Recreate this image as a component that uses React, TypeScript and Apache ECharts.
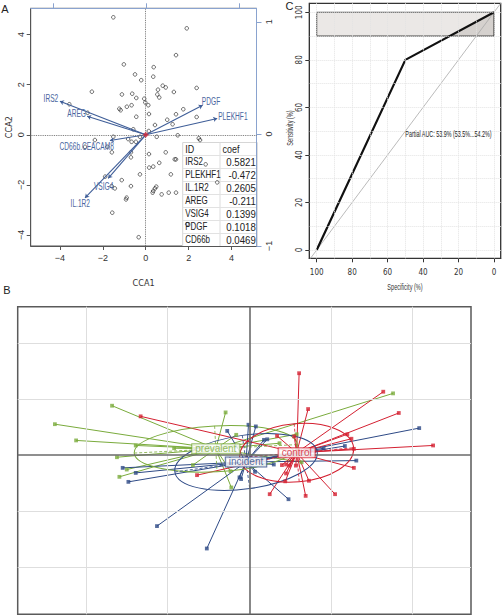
import React, { useEffect, useRef } from 'react';
import * as echarts from 'echarts';

const SANS = "'Liberation Sans', Arial, sans-serif";
const NARROW = "'Liberation Sans Narrow', 'DejaVu Sans Condensed', 'Liberation Sans', sans-serif";

// ---------------- Panel A: CCA biplot ----------------
const sitePoints: [number, number][] = [
  [-1.51, 4.69], [1.91, 4.25], [1.41, 3.18], [-1.02, 2.81], [0.37, 2.7], [-0.5, 2.41], [0.35, 2.32],
  [-0.21, 2.18], [0.79, 1.96], [0.93, 1.89], [0.57, 1.8], [2.37, 1.87], [1.31, 1.71], [-2.51, 1.72],
  [-1.11, 1.61], [-0.63, 1.64], [0.54, 1.61], [0.63, 1.49], [-0.44, 1.47], [-0.07, 1.44], [-0.02, 1.29],
  [0.12, 1.18], [-3.56, 1.22], [-0.66, 1.18], [-0.88, 1.12], [-1.23, 1.04], [-1.17, 0.98], [1.75, 1.02],
  [-2.71, 0.88], [1.41, 0.82], [0.15, 0.83], [-0.44, 0.72], [2.37, 0.71], [1.0, 0.6], [1.25, 0.42],
  [0.43, 0.39], [-0.58, 0.22], [0.14, 0.15], [1.49, -0.02], [0.51, -0.08], [-1.51, -0.08], [2.47, -0.14],
  [2.53, -0.21], [-2.37, -0.21], [-0.82, -0.17], [-0.66, -0.28], [-0.46, -0.28], [-0.27, -0.08],
  [-2.83, -0.48], [-1.79, -0.48], [-1.58, -0.7], [-0.69, -0.7], [0.15, -0.77], [0.93, -0.7], [-0.69, -0.9],
  [1.41, -0.98], [1.35, -0.98], [0.63, -1.12], [0.35, -1.27], [0.16, -1.31], [1.17, -1.58], [-0.27, -1.58],
  [-1.89, -1.67], [-1.12, -1.81], [0.49, -2.07], [0.43, -2.14], [0.35, -2.24], [0.32, -2.31], [-1.59, -2.05],
  [-1.44, -2.14], [-0.69, -2.05], [0.74, -2.38], [1.07, -2.31], [1.41, -2.31], [-0.89, -2.51], [-0.92, -2.58],
  [-1.56, -3.11], [-0.33, -4.09], [2.79, -1.18], [3.33, -1.9], [1.93, -3.57],
];
const varNames = ['IRS2', 'AREG', 'PDGF', 'PLEKHF1', 'CD66b.CEACAM8', 'VSIG4', 'IL.1R2'];
const varTips: [number, number][] = [
  [-4.0, 1.34], [-2.73, 0.74], [2.65, 1.18], [3.33, 0.65], [-1.67, -0.23], [-1.75, -1.74], [-2.83, -2.52],
];
const varLabelPos: [number, number][] = [
  [-4.42, 1.45], [-3.22, 0.86], [3.04, 1.33], [4.06, 0.75], [-2.75, -0.45], [-1.96, -2.05], [-3.05, -2.74],
];
const ccaTicks = [-4, -2, 0, 2, 4];
const biplotTicks = [-1, 0, 1];
const tableHeader = ['ID', 'coef'];
const tableIds = ['IRS2', 'PLEKHF1', 'IL.1R2', 'AREG', 'VSIG4', 'PDGF', 'CD66b'];
const tableCoefs = ['0.5821', '-0.472', '0.2605', '-0.211', '0.1399', '0.1018', '0.0469'];

// ---------------- Panel C: ROC ----------------
const rocSpecificity = [100, 50, 0];
const rocSensitivity = [0, 80, 100];
const chanceSpecificity = [105, -5];
const chanceSensitivity = [-5, 105];
const pAucBox = [100, 90, 0, 100];
const pAucFillSpec = [25, 0, 0];
const pAucFillSens = [90, 100, 90];
const rocTicks = [0, 20, 40, 60, 80, 100];
const rocGrid = [0, 10, 20, 30, 40, 50, 60, 70, 80, 90, 100];
const pAucText = 'Partial AUC: 53.9% (53.5%...54.2%)';
const pAucTextPos: [number, number] = [50, 48.8];

// ---------------- Panel B: class scatter ----------------
const groupNames = ['prevalent', 'incident', 'control'];
const groupColors = ['#7aab3c', '#2e4a86', '#d42031'];
const groupCenters: [number, number][] = [[-0.41, 0.11], [-0.04, -0.125], [0.58, 0.04]];
const groupEllipses: [number, number, number][] = [[1.0, 0.41, 3], [0.88, 0.48, 8], [0.7, 0.52, 5]];
const prevalentPoints: [number, number][] = [
  [-1.68, 0.88], [-2.38, 0.55], [-2.12, 0.26], [-1.62, -0.04], [-1.5, -0.26], [-1.59, -0.39], [-0.29, 0.76],
  [1.76, 1.1], [-0.22, -0.58], [-0.92, 0.12], [-0.69, -0.18], [-0.23, -0.29], [0.37, 0.21], [0.58, 0.37],
  [0.64, -0.13], [-1.39, 0.17], [-0.16, 0.36],
];
const incidentPoints: [number, number][] = [
  [-0.01, 0.54], [0.08, 0.51], [-0.27, 0.43], [-1.55, -0.23], [-1.48, -0.48], [-1.39, -0.32], [-1.13, -1.27],
  [-0.52, -1.67], [-0.12, -0.4], [-0.1, -0.43], [0.18, 0.27], [0.22, 0.28], [2.08, 0.48], [1.17, 0.16],
  [1.31, -0.1], [0.91, 0.12], [0.48, -0.79], [0.3, -0.17], [0.07, -0.3],
];
const controlPoints: [number, number][] = [
  [-1.33, 0.69], [0.61, 1.46], [0.72, 0.82], [1.64, 1.13], [1.83, 0.75], [2.25, 0.17], [1.2, 0.37],
  [1.25, 0.29], [1.28, 0.11], [1.28, -0.23], [0.73, -0.46], [0.44, -0.47], [0.25, -0.7], [0.69, -0.73],
  [1.05, -0.7], [0.34, 0.34], [0.55, 0.33], [0.4, -0.18], [0.45, -0.17], [0.49, -0.19], [0.45, -0.33],
  [0.57, -0.19], [-0.64, -0.36],
];
const groupPoints = [prevalentPoints, incidentPoints, controlPoints];
const bGridLines = [-2, -1, 1, 2];

const minusFmt = (v: number) => String(v).replace('-', '\u2212');

export default function App() {
  const ref = useRef<HTMLDivElement>(null);
  useEffect(() => {
    if (!ref.current) return;
    const chart = echarts.init(ref.current, null, { renderer: 'svg' });

    // table graphic (panel A inset)
    const tL = 182.7, tR = 257.3, tT = 142.5, rowH = 13, colX = 220;
    const nRows = tableIds.length + 1;
    const tableEls: any[] = [
      { type: 'rect', shape: { x: tL, y: tT, width: tR - tL, height: rowH * nRows }, style: { fill: '#fff', stroke: '#d6d6d6', lineWidth: 1 }, z: 0 },
      { type: 'line', shape: { x1: colX, y1: tT, x2: colX, y2: tT + rowH * nRows }, style: { stroke: '#dcdcdc', lineWidth: 1 }, z: 0 },
    ];
    for (let r = 1; r < nRows; r++) {
      tableEls.push({ type: 'line', shape: { x1: tL, y1: tT + rowH * r, x2: tR, y2: tT + rowH * r }, style: { stroke: '#e2e2e2', lineWidth: 1 }, z: 0 });
    }
    const cellText = (text: string, x: number, y: number, align: string, sx: number) => ({
      type: 'text', x, y, scaleX: sx, z: 0,
      style: { text, fill: '#222', font: `10.5px ${SANS}`, align, textAlign: align, verticalAlign: 'middle', textVerticalAlign: 'middle' },
    });
    tableEls.push(cellText(tableHeader[0], tL + 2.5, tT + rowH / 2, 'left', 0.85));
    tableEls.push(cellText(tableHeader[1], colX + 2.5, tT + rowH / 2, 'left', 0.85));
    tableIds.forEach((id, i) => {
      const y = tT + rowH * (i + 1) + rowH / 2;
      tableEls.push(cellText(id, tL + 2.5, y, 'left', 0.76));
      tableEls.push(cellText(tableCoefs[i], tR - 1.5, y, 'right', 0.92));
    });

    const letter = (t: string, x: number, y: number) => ({
      type: 'text', x, y, style: { text: t, fill: '#222', font: `11px ${SANS}`, align: 'center', textAlign: 'center', verticalAlign: 'middle', textVerticalAlign: 'middle' },
    });

    const axisTxt = { fontSize: 9, color: '#333', fontFamily: SANS };
    const rocTxt = { fontSize: 8, color: '#333', fontFamily: NARROW };
    const blue = '#8aa3cf';

    const option: any = {
      animation: false,
      backgroundColor: '#fff',
      grid: [
        { left: 30.7, top: 8.3, width: 225.8, height: 237.7, show: true, borderColor: '#555', borderWidth: 1, outerBoundsMode: 'none' },
        { left: 309.3, top: 3.3, width: 191.4, height: 255, show: true, borderColor: '#333', borderWidth: 1.3, outerBoundsMode: 'none' },
        { left: 17.7, top: 306.7, width: 453.3, height: 307.6, show: true, borderColor: '#5a5a5a', borderWidth: 1.5, outerBoundsMode: 'none' },
      ],
      xAxis: [
        {
          gridIndex: 0, type: 'value', min: -5.36, max: 5.16, position: 'bottom',
          axisLine: { show: true, onZero: false, lineStyle: { color: '#555' } },
          axisTick: { show: true, customValues: ccaTicks, length: 4, lineStyle: { color: '#555' } },
          axisLabel: { customValues: ccaTicks, formatter: minusFmt, margin: 7, ...axisTxt },
          splitLine: { show: false },
          name: 'CCA1', nameLocation: 'middle', nameGap: 32, nameTextStyle: { fontSize: 9, color: '#333', fontFamily: NARROW },
        },
        {
          gridIndex: 0, type: 'value', min: -1.24, max: 1.19, position: 'top',
          axisLine: { show: true, onZero: false, lineStyle: { color: blue } },
          axisTick: { show: true, customValues: biplotTicks, length: 5, lineStyle: { color: blue } },
          axisLabel: { show: false },
          splitLine: { show: false },
        },
        {
          gridIndex: 1, type: 'value', inverse: true, min: -3.78, max: 104.17,
          axisLine: { show: true, onZero: false, lineStyle: { color: '#333' } },
          axisTick: { show: true, customValues: rocTicks, length: 4, lineStyle: { color: '#333' } },
          axisLabel: { customValues: rocTicks, margin: 10, ...rocTxt },
          splitLine: { show: false },
        },
        {
          gridIndex: 2, type: 'value', min: -2.835, max: 2.714,
          axisLine: { show: false }, axisTick: { show: false }, axisLabel: { show: false }, splitLine: { show: false },
        },
      ],
      yAxis: [
        {
          gridIndex: 0, type: 'value', min: -4.44, max: 5.05, position: 'left',
          axisLine: { show: true, onZero: false, lineStyle: { color: '#555' } },
          axisTick: { show: true, customValues: ccaTicks, length: 4, lineStyle: { color: '#555' } },
          axisLabel: { customValues: ccaTicks, formatter: minusFmt, rotate: 90, margin: 5, ...axisTxt },
          splitLine: { show: false },
          name: 'CCA2', nameLocation: 'middle', nameGap: 17, nameRotate: 90, nameTextStyle: { fontSize: 9, color: '#333', fontFamily: NARROW },
        },
        {
          gridIndex: 0, type: 'value', min: -1.0, max: 1.12, position: 'right',
          axisLine: { show: true, onZero: false, lineStyle: { color: blue } },
          axisTick: { show: true, customValues: biplotTicks, length: 5, lineStyle: { color: blue } },
          axisLabel: { customValues: biplotTicks, formatter: minusFmt, rotate: 90, margin: 8, ...axisTxt },
          splitLine: { show: false },
        },
        {
          gridIndex: 1, type: 'value', min: -3.49, max: 103.79,
          axisLine: { show: true, onZero: false, lineStyle: { color: '#333' } },
          axisTick: { show: true, customValues: rocTicks, length: 4, lineStyle: { color: '#333' } },
          axisLabel: { customValues: rocTicks, rotate: 90, margin: 6, ...rocTxt },
          splitLine: { show: false },
        },
        {
          gridIndex: 2, type: 'value', min: -2.845, max: 2.648,
          axisLine: { show: false }, axisTick: { show: false }, axisLabel: { show: false }, splitLine: { show: false },
        },
      ],
      graphic: [
        ...tableEls,
        letter('A', 5, 9),
        letter('B', 7, 290),
        letter('C', 289.5, 6),
        {
          type: 'text', x: 405, y: 287, scaleX: 0.62,
          style: { text: 'Specificity (%)', fill: '#333', font: `9px ${SANS}`, align: 'center', textAlign: 'center', verticalAlign: 'middle', textVerticalAlign: 'middle' },
        },
        {
          type: 'text', x: 290, y: 128, rotation: Math.PI / 2, scaleX: 0.62,
          style: { text: 'Sensitivity (%)', fill: '#333', font: `9px ${SANS}`, align: 'center', textAlign: 'center', verticalAlign: 'middle', textVerticalAlign: 'middle' },
        },
      ],
      series: [
        // ---- Panel A ----
        {
          type: 'scatter', xAxisIndex: 0, yAxisIndex: 0, data: [[0, 0]], symbolSize: 0, silent: true, z: 1,
          markLine: {
            silent: true, symbol: ['none', 'none'], label: { show: false },
            lineStyle: { type: 'dotted', color: '#666', width: 0.9 },
            data: [{ xAxis: 0 }, { yAxis: 0 }],
          },
        },
        {
          type: 'scatter', xAxisIndex: 0, yAxisIndex: 0, data: sitePoints, symbol: 'circle', symbolSize: 3.6, z: 3,
          itemStyle: { color: 'rgba(0,0,0,0)', borderColor: '#1a1a1a', borderWidth: 0.8 },
        },
        {
          type: 'lines', coordinateSystem: 'cartesian2d', xAxisIndex: 0, yAxisIndex: 0, z: 4,
          symbol: ['none', 'arrow'], symbolSize: [0, 4],
          lineStyle: { color: '#3f5e98', width: 1.1, opacity: 1 },
          data: varTips.map((t) => ({ coords: [[0, 0], t] })),
        },
        {
          type: 'scatter', xAxisIndex: 0, yAxisIndex: 0, data: [[0, 0]], symbol: 'diamond', symbolSize: 6, z: 5,
          itemStyle: { color: '#d1283a' },
        },
        {
          type: 'custom', xAxisIndex: 0, yAxisIndex: 0, data: varLabelPos, z: 5,
          renderItem: (params: any, api: any) => {
            const p = api.coord([api.value(0), api.value(1)]);
            return {
              type: 'text', x: p[0], y: p[1], scaleX: 0.66,
              style: { text: varNames[params.dataIndex], fill: '#4a66a0', font: `10px ${SANS}`, align: 'center', textAlign: 'center', verticalAlign: 'middle', textVerticalAlign: 'middle' },
            };
          },
        },
        // ---- Panel C ----
        {
          type: 'scatter', xAxisIndex: 2, yAxisIndex: 2, data: [[0, 0]], symbolSize: 0, silent: true, z: 1,
          markLine: {
            silent: true, symbol: ['none', 'none'], label: { show: false },
            lineStyle: { type: 'dotted', color: '#e3e3e3', width: 1 },
            data: [...rocGrid.map((v) => ({ xAxis: v })), ...rocGrid.map((v) => ({ yAxis: v }))],
          },
        },
        {
          type: 'custom', xAxisIndex: 2, yAxisIndex: 2, data: [pAucBox], z: 2,
          renderItem: (params: any, api: any) => {
            const a = api.coord([api.value(0), api.value(1)]);
            const b = api.coord([api.value(2), api.value(3)]);
            const x = Math.min(a[0], b[0]), y = Math.min(a[1], b[1]);
            const w = Math.abs(b[0] - a[0]), h = Math.abs(b[1] - a[1]);
            const poly = pAucFillSpec.map((s, i) => api.coord([s, pAucFillSens[i]]));
            return {
              type: 'group', children: [
                { type: 'rect', shape: { x, y, width: w, height: h }, style: { fill: '#ebe8e6', stroke: 'none' } },
                { type: 'polygon', shape: { points: poly }, style: { fill: '#d5d1ce', stroke: 'none' } },
                { type: 'rect', shape: { x, y, width: w, height: h }, style: { fill: 'none', stroke: '#2a2a2a', lineWidth: 1 } },
              ],
            };
          },
        },
        {
          type: 'line', xAxisIndex: 2, yAxisIndex: 2, z: 3, symbol: 'none', clip: true,
          data: chanceSpecificity.map((s, i) => [s, chanceSensitivity[i]]),
          lineStyle: { color: '#aaaaaa', width: 0.8 },
        },
        {
          type: 'line', xAxisIndex: 2, yAxisIndex: 2, z: 4, symbol: 'none',
          data: rocSpecificity.map((s, i) => [s, rocSensitivity[i]]),
          lineStyle: { color: '#111', width: 2.2 },
        },
        {
          type: 'custom', xAxisIndex: 2, yAxisIndex: 2, data: [pAucTextPos], z: 5,
          renderItem: (params: any, api: any) => {
            const p = api.coord([api.value(0), api.value(1)]);
            return {
              type: 'text', x: p[0], y: p[1], scaleX: 0.6,
              style: { text: pAucText, fill: '#222', font: `9px ${SANS}`, align: 'left', textAlign: 'left', verticalAlign: 'middle', textVerticalAlign: 'middle' },
            };
          },
        },
        // ---- Panel B ----
        {
          type: 'scatter', xAxisIndex: 3, yAxisIndex: 3, data: [[0, 0]], symbolSize: 0, silent: true, z: 1,
          markLine: {
            silent: true, symbol: ['none', 'none'], label: { show: false },
            lineStyle: { type: 'solid', color: '#dedede', width: 1 },
            data: [
              ...bGridLines.map((v) => ({ xAxis: v })),
              ...bGridLines.map((v) => ({ yAxis: v })),
              { xAxis: 0, lineStyle: { color: '#6a6a6a', width: 1.6, type: 'solid' } },
              { yAxis: 0, lineStyle: { color: '#6a6a6a', width: 1.6, type: 'solid' } },
            ],
          },
        },
        ...groupPoints.map((pts, g) => ({
          type: 'lines', coordinateSystem: 'cartesian2d', xAxisIndex: 3, yAxisIndex: 3, z: 2,
          lineStyle: { color: groupColors[g], width: 1, opacity: 1 },
          data: pts.map((p) => ({ coords: [p, groupCenters[g]] })),
        })),
        {
          type: 'custom', xAxisIndex: 3, yAxisIndex: 3, data: groupCenters, z: 3,
          renderItem: (params: any, api: any) => {
            const i = params.dataIndex;
            const c = api.coord([api.value(0), api.value(1)]);
            const s = api.size([groupEllipses[i][0], groupEllipses[i][1]]);
            const color = groupColors[i];
            return {
              type: 'group', x: c[0], y: c[1], rotation: (groupEllipses[i][2] * Math.PI) / 180,
              children: [
                { type: 'ellipse', shape: { cx: 0, cy: 0, rx: s[0], ry: s[1] }, style: { fill: 'none', stroke: color, lineWidth: 1 } },
                { type: 'line', shape: { x1: -s[0], y1: 0, x2: s[0], y2: 0 }, style: { stroke: color, lineWidth: 0.8, lineDash: [3, 2] } },
                { type: 'line', shape: { x1: 0, y1: -s[1], x2: 0, y2: s[1] }, style: { stroke: color, lineWidth: 0.8, lineDash: [3, 2] } },
              ],
            };
          },
        },
        ...groupPoints.map((pts, g) => ({
          type: 'scatter', xAxisIndex: 3, yAxisIndex: 3, z: 4, data: pts, symbol: 'rect', symbolSize: 3.8,
          itemStyle: { color: groupColors[g] },
        })),
        ...groupNames.map((name, g) => ({
          type: 'scatter', xAxisIndex: 3, yAxisIndex: 3, z: 6, data: [groupCenters[g]], symbolSize: 0,
          label: {
            show: true, position: 'inside', formatter: name, color: groupColors[g], fontSize: 10, fontFamily: SANS,
            backgroundColor: '#fff', borderColor: groupColors[g], borderWidth: 1, padding: [0, 3], lineHeight: 9,
          },
        })),
      ],
    };
    chart.setOption(option);
    return () => chart.dispose();
  }, []);
  return <div ref={ref} style={{ position: 'fixed', left: 0, top: 0, width: 502, height: 616 }} />;
}
